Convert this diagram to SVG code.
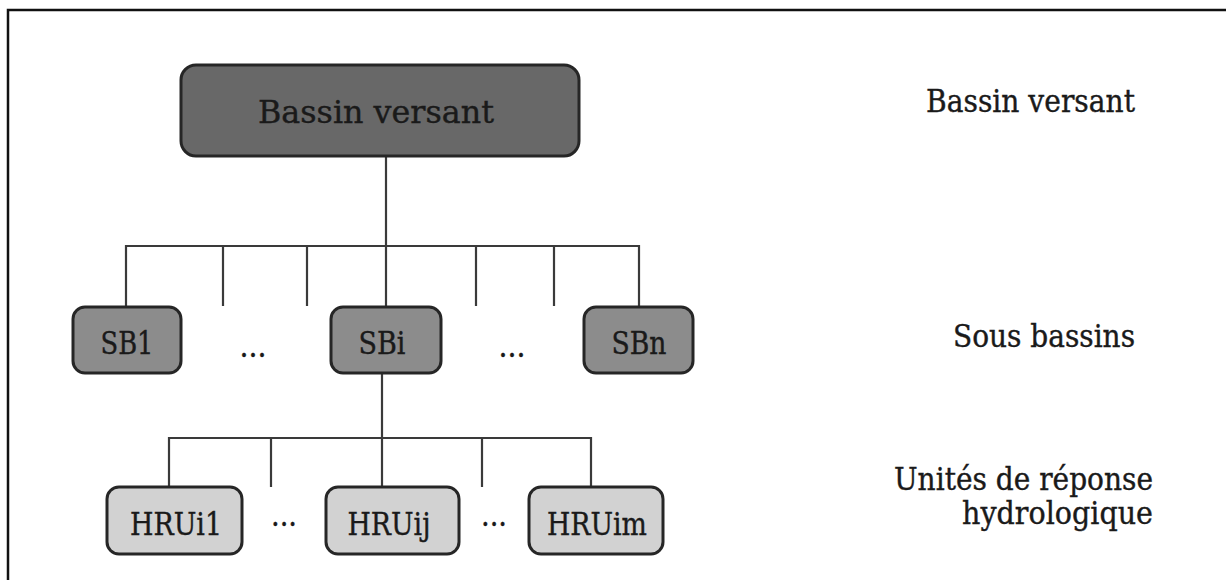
<svg xmlns="http://www.w3.org/2000/svg" width="1226" height="580" viewBox="0 0 1226 580">
  <style>
    .frame { fill: none; stroke: #111; stroke-width: 2.5; }
    .box { stroke: #262626; stroke-width: 3; }
    .top { fill: #686868; }
    .mid { fill: #8c8c8c; }
    .low { fill: #d2d2d2; }
    .conn { fill: none; stroke: #3a3a3a; stroke-width: 2.2; }
    text { font-family: "DejaVu Serif", "Liberation Serif", serif; fill: #1a1a1a; stroke: #1a1a1a; stroke-width: 0.4; font-size: 31px; }
    .c { text-anchor: middle; }
    .r { text-anchor: end; }
  </style>
  <rect x="0" y="0" width="1226" height="580" fill="#ffffff"/>
  <rect class="frame" x="8" y="10" width="1400" height="700"/>

  <g id="connectors">
    <path class="conn" d="M386 156 V246 M126 307 V246 H639 V307 M223 246 V306 M307 246 V306 M476 246 V306 M554 246 V306 M386 246 V307"/>
    <path class="conn" d="M382 373 V438 M169 487 V438 H591 V487 M271 438 V487 M482 438 V487 M382 438 V487"/>
  </g>

  <g id="bassin-versant">
    <rect class="box top" x="181" y="65" width="398" height="91" rx="15"/>
    <text class="c" x="376" y="123" textLength="236" lengthAdjust="spacingAndGlyphs">Bassin versant</text>
  </g>

  <g id="sb1">
    <rect class="box mid" x="73" y="307" width="108" height="66" rx="12"/>
    <text class="c" x="127" y="354" textLength="53" lengthAdjust="spacingAndGlyphs">SB1</text>
  </g>
  <g id="sb-dots1"><text class="c" x="253" y="357" textLength="27" lengthAdjust="spacingAndGlyphs">...</text></g>
  <g id="sbi">
    <rect class="box mid" x="331" y="307" width="110" height="66" rx="12"/>
    <text class="c" x="382" y="354" textLength="47" lengthAdjust="spacingAndGlyphs">SBi</text>
  </g>
  <g id="sb-dots2"><text class="c" x="512" y="357" textLength="27" lengthAdjust="spacingAndGlyphs">...</text></g>
  <g id="sbn">
    <rect class="box mid" x="584" y="307" width="109" height="66" rx="12"/>
    <text class="c" x="639" y="354" textLength="55" lengthAdjust="spacingAndGlyphs">SBn</text>
  </g>

  <g id="hrui1">
    <rect class="box low" x="107" y="487" width="135" height="67" rx="12"/>
    <text class="c" x="176" y="535" textLength="92" lengthAdjust="spacingAndGlyphs">HRUi1</text>
  </g>
  <g id="hru-dots1"><text class="c" x="284" y="526" textLength="26" lengthAdjust="spacingAndGlyphs">...</text></g>
  <g id="hruij">
    <rect class="box low" x="326" y="487" width="133" height="67" rx="12"/>
    <text class="c" x="389" y="535" textLength="83" lengthAdjust="spacingAndGlyphs">HRUij</text>
  </g>
  <g id="hru-dots2"><text class="c" x="494" y="526" textLength="26" lengthAdjust="spacingAndGlyphs">...</text></g>
  <g id="hruim">
    <rect class="box low" x="529" y="487" width="134" height="67" rx="12"/>
    <text class="c" x="597" y="535" textLength="100" lengthAdjust="spacingAndGlyphs">HRUim</text>
  </g>

  <g id="labels">
    <text class="r" x="1135" y="112" textLength="209" lengthAdjust="spacingAndGlyphs">Bassin versant</text>
    <text class="r" x="1135" y="347" textLength="182" lengthAdjust="spacingAndGlyphs">Sous bassins</text>
    <text class="r" x="1153" y="490" textLength="259" lengthAdjust="spacingAndGlyphs">Unités de réponse</text>
    <text class="r" x="1153" y="524" textLength="191" lengthAdjust="spacingAndGlyphs">hydrologique</text>
  </g>
</svg>
